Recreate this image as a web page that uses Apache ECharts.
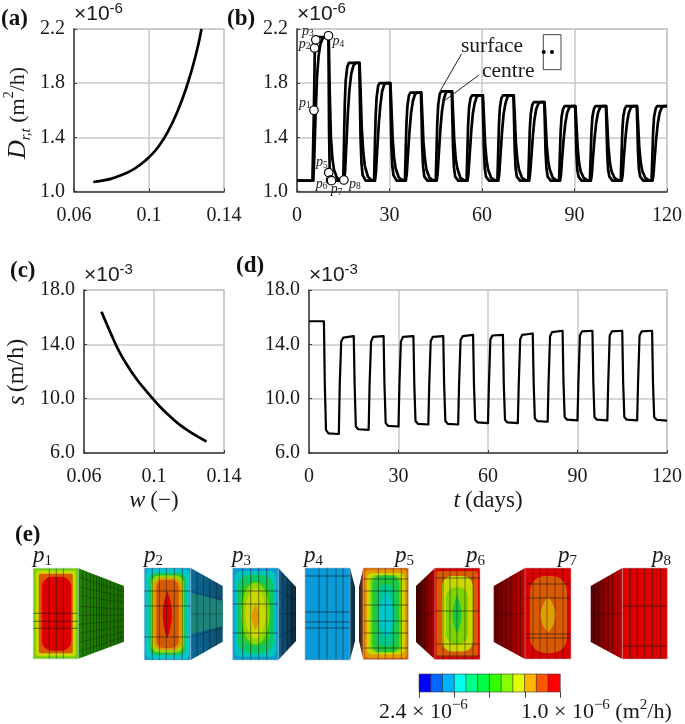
<!DOCTYPE html>
<html><head><meta charset="utf-8">
<style>html,body{margin:0;padding:0;background:#fff}#c{width:685px;height:724px}</style>
<script src="https://cdn.jsdelivr.net/npm/echarts@6/dist/echarts.min.js"></script>
</head><body><div id="c"></div>
<script>
// ---------- panel (a) ----------
var curveAw = [0.0703,0.075,0.08,0.085,0.09,0.095,0.1,0.105,0.11,0.115,0.12,0.125,0.128];
var curveAD = [1.07,1.08,1.095,1.12,1.15,1.195,1.253,1.33,1.44,1.585,1.77,2.01,2.2];
// ---------- panel (c) ----------
var curveCw = [0.07,0.075,0.08,0.085,0.09,0.095,0.1,0.105,0.11,0.115,0.12,0.125,0.13];
var curveCs = [16.4,14.9,13.5,12.4,11.45,10.65,9.9,9.2,8.6,8.05,7.6,7.2,6.85];
// ---------- panel (b): wetting/drying cycles ----------
var cycleStarts = [5,15,25,35,45,55,65,75,85,95,105,115];
var surfaceOffsets = [0,0.3,0.5,0.8,1.3,1.8,5.2,5.4,5.6,5.9,6.3,7.3];
var surfaceCycles = [
 [1.08,1.40,1.62,2.08,2.12,2.14,2.14,1.45,1.16,1.10,1.085,1.08],
 [1.08,1.43,1.65,1.82,1.92,1.95,1.95,1.69,1.41,1.21,1.12,1.08],
 [1.08,1.37,1.55,1.69,1.78,1.80,1.80,1.58,1.35,1.19,1.12,1.08],
 [1.08,1.34,1.50,1.63,1.71,1.73,1.73,1.54,1.33,1.18,1.11,1.08],
 [1.08,1.34,1.51,1.64,1.72,1.74,1.74,1.54,1.33,1.18,1.11,1.08],
 [1.08,1.33,1.49,1.62,1.69,1.71,1.71,1.52,1.32,1.17,1.11,1.08],
 [1.08,1.33,1.49,1.62,1.69,1.71,1.71,1.52,1.32,1.17,1.11,1.08],
 [1.08,1.31,1.46,1.57,1.64,1.66,1.66,1.49,1.30,1.17,1.11,1.08],
 [1.08,1.30,1.44,1.55,1.61,1.63,1.63,1.47,1.29,1.16,1.11,1.08],
 [1.08,1.30,1.44,1.55,1.61,1.63,1.63,1.47,1.29,1.16,1.11,1.08],
 [1.08,1.30,1.44,1.55,1.61,1.63,1.63,1.47,1.29,1.16,1.11,1.08],
 [1.08,1.30,1.44,1.55,1.61,1.63]
];
var centreOffsets = [0.3,0.6,1,1.5,2,2.6,3.3,4,5.3,5.6,6,6.5,7,8,9];
var centreCycles = [
 [1.08,1.25,1.55,1.85,2.00,2.09,2.13,2.14,2.14,1.75,1.40,1.24,1.16,1.10,1.085],
 [1.08,1.15,1.34,1.58,1.75,1.87,1.93,1.95,1.95,1.76,1.47,1.29,1.19,1.11,1.087],
 [1.08,1.14,1.30,1.49,1.63,1.74,1.79,1.80,1.80,1.64,1.40,1.25,1.17,1.105,1.086],
 [1.08,1.13,1.28,1.45,1.58,1.67,1.72,1.73,1.73,1.59,1.37,1.24,1.16,1.10,1.085],
 [1.08,1.13,1.28,1.46,1.59,1.68,1.73,1.74,1.74,1.59,1.38,1.24,1.17,1.10,1.085],
 [1.08,1.13,1.27,1.44,1.57,1.65,1.70,1.71,1.71,1.57,1.36,1.23,1.16,1.10,1.085],
 [1.08,1.13,1.27,1.44,1.57,1.65,1.70,1.71,1.71,1.57,1.36,1.23,1.16,1.10,1.085],
 [1.08,1.13,1.25,1.41,1.53,1.61,1.65,1.66,1.66,1.53,1.34,1.22,1.16,1.10,1.085],
 [1.08,1.12,1.25,1.39,1.50,1.58,1.62,1.63,1.63,1.51,1.33,1.21,1.15,1.10,1.085],
 [1.08,1.12,1.25,1.39,1.50,1.58,1.62,1.63,1.63,1.51,1.33,1.21,1.15,1.10,1.085],
 [1.08,1.12,1.25,1.39,1.50,1.58,1.62,1.63,1.63,1.51,1.33,1.21,1.15,1.10,1.085],
 [1.08,1.12,1.25,1.39,1.50,1.58,1.62,1.63]
];
var markerDays = [5.5,5.7,6.1,10.2,10.3,10.9,11.2,15.2];
var markerValues = [1.6,2.06,2.12,2.15,1.14,1.085,1.08,1.085];
var markerNames = ['1','2','3','4','5','6','7','8'];
// ---------- panel (d) ----------
var speedOffsets = [0,0.3,0.7,1.5,5,5.3,5.8,6.5];
var speedCycles = [
 [15.7,11,7.7,7.45,7.4,11,14.2,14.5],
 [14.6,11,7.95,7.75,7.7,11,14.2,14.55],
 [14.6,11,8.2,8.0,7.95,11,14.2,14.55],
 [14.6,11,8.35,8.15,8.1,11,14.25,14.55],
 [14.6,11,8.35,8.15,8.1,11,14.3,14.6],
 [14.7,11,8.45,8.25,8.2,11,14.35,14.65],
 [14.7,11,8.45,8.25,8.2,11,14.4,14.7],
 [14.8,11.2,8.55,8.35,8.3,11.2,14.6,14.9],
 [15,11.2,8.65,8.45,8.4,11.2,14.65,14.95],
 [15,11.2,8.65,8.45,8.4,11.2,14.65,14.95],
 [15,11.2,8.65,8.45,8.4,11.2,14.65,14.95],
 [15,11.2,8.65,8.45]
];
// ---------- colour bar ----------
var barValues = [2.34,2.22,2.11,1.99,1.87,1.76,1.64,1.52,1.41,1.29,1.17,1.06];
var barColours = ['#0000ff','#0066ff','#00b3ff','#00ffee','#00ff88','#00ff44','#33ff00','#88ff00','#e6ff00','#ffb300','#ff5500','#ff0000'];

// ---------- assemble series data ----------
function cycleSeries(head, offsets, cycles, tail){
  var out = head.slice();
  cycles.forEach(function(vals,k){ vals.forEach(function(v,i){ out.push([cycleStarts[k]+offsets[i], v]); }); });
  return out.concat(tail);
}
var surfaceData = cycleSeries([[0,1.08]], surfaceOffsets, surfaceCycles, [[120,1.63]]);
var centreData  = cycleSeries([[0,1.08]], centreOffsets, centreCycles, [[120,1.63]]);
var speedData   = cycleSeries([[0,15.7]], speedOffsets, speedCycles, [[120,8.38]]);
function zip(a,b){ return a.map(function(x,i){ return [x,b[i]]; }); }

var SERIF = '"Liberation Serif"', SANS = '"Liberation Sans"';
var INK = '#1a1a1a', LIGHT = '#c9c9c9', AXIS = '#3a3a3a';
var base = {fontFamily:SERIF, fontSize:20, color:INK};

function gridBox(l,t,r,b){ return {left:l, top:t, width:r-l, height:b-t, show:true, borderColor:LIGHT, borderWidth:1.5, backgroundColor:'transparent'}; }
function xAx(i,min,max,interval,extra){
  return Object.assign({type:'value', gridIndex:i, min:min, max:max, interval:interval,
    axisLine:{onZero:false, lineStyle:{color:AXIS,width:1.5}},
    axisTick:{inside:true,length:3,lineStyle:{color:AXIS}},
    axisLabel:{fontFamily:SERIF,fontSize:20,color:INK,margin:14,showMinLabel:true,showMaxLabel:true},
    splitLine:{show:true,lineStyle:{color:LIGHT,width:1.5}}}, extra||{});
}
function yAx(i,min,max,interval,exp){
  return {type:'value', gridIndex:i, min:min, max:max, interval:interval,
    axisLine:{onZero:false, lineStyle:{color:AXIS,width:1.5}},
    axisTick:{inside:true,length:3,lineStyle:{color:AXIS}},
    axisLabel:{fontFamily:SERIF,fontSize:20,color:INK,margin:9,formatter:function(v){return v.toFixed(1);},showMinLabel:true,showMaxLabel:true},
    splitLine:{show:true,lineStyle:{color:LIGHT,width:1.5}},
    name:'{x|×10}{s|'+exp+'}', nameLocation:'end', nameGap:2,
    nameTextStyle:{align:'left',verticalAlign:'bottom',rich:{
      x:{fontFamily:SANS,fontSize:21,color:INK,lineHeight:26},
      s:{fontFamily:SANS,fontSize:15,color:INK,verticalAlign:'top'}}}};
}
var line = function(x,y,data,smooth,w){ return {type:'line',xAxisIndex:x,yAxisIndex:y,data:data,showSymbol:false,smooth:smooth,
  lineStyle:{color:'#000',width:w||2.7,join:'round'},clip:true,silent:true}; };

var labelOffsets = [[-9,-7],[-10,-4],[-8,-9],[10,6],[-7,-10],[-9,4],[5,9],[11,4]];
var markerData = markerDays.map(function(d,i){
  return {value:[d,markerValues[i]], name:markerNames[i], label:{offset:labelOffsets[i]}};
});
var xNameRich = {i:{fontFamily:SERIF,fontStyle:'italic',fontSize:24,color:INK},n:{fontFamily:SERIF,fontSize:23,color:INK}};

// ---------- panel (e) illustration ----------
function lens(cx,halfW,top,bottom){
  var pts=[], n=16, cy=(top+bottom)/2, h=(bottom-top)/2, i, t;
  for(i=0;i<=n;i++){ t=-1+2*i/n; pts.push([cx+halfW*(1-t*t), cy+h*t]); }
  for(i=n-1;i>0;i--){ t=-1+2*i/n; pts.push([cx-halfW*(1-t*t), cy+h*t]); }
  return pts;
}
var panelDefs = [
 {x:33.3,w:45,y:568.3,h:90.5,sideTo:124,sideTop:586,sideBot:641.7,near:'#1f8400',far:'#1c7000',
  fill:'#6fd400',
  rects:[[2.5,2.5,2.5,2.5,3,'#c8d800'],[5.5,5.5,5.5,5.5,2,'#d95a00'],[8.5,7,8.5,8,10,'#dc0000']],
  v:[16,23,30],hl:[45,53,60],sv:[.1,.18,.26,.33,.4,.46,.51,.56,.62,.7,.78,.87,.94],sh:[.1,.2,.3,.42,.52,.62,.72,.82,.92]},
 {x:144.3,w:46.4,y:568,h:92,sideTo:222.7,sideTop:586,sideBot:641.7,near:'#106a96',far:'#0c4f70',band:'#1c8478',
  fill:'#0a9ad8',
  rects:[[1,1,1,1,6,'#00c8c8'],[4.5,4.5,5,5,8,'#20c848'],[7,7,7.5,7.5,8,'#9ad800'],[9.5,9.5,10,10,8,'#e29a00'],[12,12,12,12,7,'#d85a00']],
  lenses:[[23,4.6,23,70,'#dc0000']],
  v:[8,15,22,30,38],hl:[23,38,69],sv:[.2,.4,.6,.8],sh:[.25,.5,.75]},
 {x:232.7,w:45.6,y:568,h:92,sideTo:296,sideTop:587,sideBot:641,near:'#10608a',far:'#0a2636',
  fill:'#0a9ad8',
  rects:[[2,2,3,3,7,'#00c4b8'],[5,5,7,7,12,'#10c860'],[8,8,14,14,14,'#30cc20']],
  ells:[[22.8,14,45.5,31,'#8cd800'],[22.8,10,45.5,25,'#c8d800']],
  lenses:[[22.8,3.6,36,62,'#e09a00']],
  v:[10,18,26,34],hl:[23,36,65],sv:[.25,.5,.75],sh:[.25,.5,.75]},
 {x:305,w:45,y:568,h:92,sideTo:355,sideTop:587,sideBot:641,near:'#0e4a6c',far:'#0a2030',
  fill:'#0a9ad8',rects:[],v:[14,22,31,38],hl:[8,44,54,60],sv:[],sh:[]},
 {x:363.3,w:45,y:568,h:91.5,sideTo:359,sideTop:587,sideBot:641,near:'#8a4a10',far:'#1c1c1c',
  fill:'#d85a00',
  rects:[[1.5,1.5,1.5,1.5,4,'#e29a00'],[3.5,3.5,5,5,5,'#c6d800'],[7,7,7,7,7,'#7ed400'],[9,9,7.5,7.5,8,'#20c840'],[14,14,16,13,10,'#00c88c']],
  lenses:[[23,7.5,24,70,'#00c8c8']],
  v:[15,22,30,38],hl:[11,23,37,53,65,80],sv:[],sh:[]},
 {x:435,w:45,y:568,h:91.5,sideTo:416,sideTop:586,sideBot:642,near:'#b80000',far:'#3c0000',
  fill:'#dc0000',
  rects:[[1.5,2,3,3,3,'#d95a00'],[7,7,8,8,10,'#c8d800'],[11,12,19,15,11,'#7ed400']],
  lenses:[[22,4.4,27,66,'#20c840']],
  v:[8,15,22,30,38],hl:[10,43,76,88],sv:[.2,.4,.55,.7,.85],sh:[.5]},
 {x:525,w:46,y:568,h:91,sideTo:493.7,sideTop:586,sideBot:642,near:'#c00000',far:'#5a0000',
  fill:'#dc0000',
  rects:[[5,4,8,6,15,'#d95a00']],
  lenses:[[23,7.5,29,65,'#e0a000']],
  v:[8,15,22,30,38],hl:[16,30,66,70],sv:[.15,.3,.45,.6,.75,.88],sh:[.5]},
 {x:622.3,w:45,y:568,h:91,sideTo:590.7,sideTop:586,sideBot:642,near:'#c00000',far:'#5a0000',
  fill:'#dc0000',rects:[],v:[8,15,22,30,38],hl:[38,78],sv:[.15,.3,.45,.6,.75,.88],sh:[.5]}
];
var gfx = [];
function add(o){ o.silent=true; o.z=10; gfx.push(o); }
panelDefs.forEach(function(p){
  var leftSide = p.sideTo < p.x;
  var ex = leftSide ? p.x : p.x+p.w;
  var pts=[[ex,p.y],[p.sideTo,p.sideTop],[p.sideTo,p.sideBot],[ex,p.y+p.h]];
  add({type:'polygon',shape:{points:pts},style:{fill:new echarts.graphic.LinearGradient(
      leftSide?1:0,0,leftSide?0:1,0,[{offset:0,color:p.near},{offset:1,color:p.far}])}});
  if(p.band){
    var bt=.27,bb=.72;
    add({type:'polygon',shape:{points:[[ex,p.y+p.h*bt],[p.sideTo,p.sideTop+(p.sideBot-p.sideTop)*bt],[p.sideTo,p.sideTop+(p.sideBot-p.sideTop)*bb],[ex,p.y+p.h*bb]]},style:{fill:p.band}});
  }
  p.sv.forEach(function(f){
    var x=ex+(p.sideTo-ex)*f, t=p.y+(p.sideTop-p.y)*f, b=p.y+p.h+(p.sideBot-p.y-p.h)*f;
    add({type:'line',shape:{x1:x,y1:t,x2:x,y2:b},style:{stroke:'rgba(0,0,0,.5)',lineWidth:.7}});
  });
  p.sh.forEach(function(f){
    add({type:'line',shape:{x1:ex,y1:p.y+p.h*f,x2:p.sideTo,y2:p.sideTop+(p.sideBot-p.sideTop)*f},style:{stroke:'rgba(0,0,0,.4)',lineWidth:.6}});
  });
  add({type:'rect',shape:{x:p.x,y:p.y,width:p.w,height:p.h},style:{fill:p.fill}});
  p.rects.forEach(function(r){
    add({type:'rect',shape:{x:p.x+r[0],y:p.y+r[2],width:p.w-r[0]-r[1],height:p.h-r[2]-r[3],r:r[4]},style:{fill:r[5]}});
  });
  (p.ells||[]).forEach(function(e){
    add({type:'ellipse',shape:{cx:p.x+e[0],cy:p.y+e[2],rx:e[1],ry:e[3]},style:{fill:e[4]}});
  });
  (p.lenses||[]).forEach(function(l){
    add({type:'polygon',shape:{points:lens(p.x+l[0],l[1],p.y+l[2],p.y+l[3])},style:{fill:l[4]}});
  });
  p.v.forEach(function(o){
    add({type:'line',shape:{x1:p.x+o,y1:p.y,x2:p.x+o,y2:p.y+p.h},style:{stroke:'rgba(20,20,20,.6)',lineWidth:.8}});
  });
  p.hl.forEach(function(o){
    add({type:'line',shape:{x1:p.x,y1:p.y+o,x2:p.x+p.w,y2:p.y+o},style:{stroke:'rgba(20,20,20,.7)',lineWidth:.8}});
  });
  add({type:'rect',shape:{x:p.x,y:p.y,width:p.w,height:p.h},style:{fill:'none',stroke:'rgba(170,185,195,.7)',lineWidth:.8}});
});
var mathRich = {i:{fontFamily:SERIF,fontStyle:'italic',fontSize:23,fill:INK,lineHeight:26},
                s:{fontFamily:SERIF,fontSize:15,fill:INK,verticalAlign:'bottom'},
                n:{fontFamily:SERIF,fontSize:22,fill:INK,lineHeight:28},
                u:{fontFamily:SERIF,fontSize:15,fill:INK,verticalAlign:'top'}};
var panelTitleX = [33,144,232,304,395,466,558,652];
panelTitleX.forEach(function(x,i){
  add({type:'text',x:x,y:543,style:{text:'{i|p}{s|'+(i+1)+'}',rich:mathRich,fill:INK,textVerticalAlign:'top'}});
});
function boldTag(t,x,y){ add({type:'text',x:x,y:y,style:{text:t,font:'bold 23px '+SERIF,fill:'#111',textVerticalAlign:'middle'}}); }
boldTag('(a)',1,19); boldTag('(b)',227,19); boldTag('(c)',10,271); boldTag('(d)',236,266); boldTag('(e)',15,535);
add({type:'text',x:379,y:698,style:{text:'{n|2.4 × 10}{u|−6}',rich:mathRich,fill:INK}});
add({type:'text',x:521,y:698,style:{text:'{n|1.0 × 10}{u|−6}{n| (m}{u|2}{n|/h)}',rich:mathRich,fill:INK}});
// annotations of panel (b)
add({type:'text',x:461,y:35,style:{text:'surface',font:'21.5px '+SERIF,fill:INK}});
add({type:'text',x:482,y:60,style:{text:'centre',font:'21.5px '+SERIF,fill:INK}});
add({type:'line',shape:{x1:461.5,y1:54,x2:440.7,y2:90},style:{stroke:'#222',lineWidth:1}});
add({type:'line',shape:{x1:479,y1:75,x2:443,y2:101.7},style:{stroke:'#222',lineWidth:1}});
add({type:'rect',shape:{x:543.3,y:34.7,width:17.7,height:35},style:{fill:'#fff',stroke:'#444',lineWidth:1}});
add({type:'circle',shape:{cx:543.7,cy:52,r:2},style:{fill:'#000'}});
add({type:'circle',shape:{cx:552,cy:52,r:2},style:{fill:'#000'}});
// rotated axis titles of (a) and (c)
add({type:'text',rotation:Math.PI/2,x:18,y:113,style:{
  text:'{i|D}{s|r,t}{n| (m}{u|2}{n|/h)}',rich:{
    i:{fontFamily:SERIF,fontStyle:'italic',fontSize:26,fill:INK,lineHeight:32},
    s:{fontFamily:SERIF,fontStyle:'italic',fontSize:15,fill:INK,verticalAlign:'bottom'},
    n:{fontFamily:SERIF,fontSize:22,fill:INK,lineHeight:32},
    u:{fontFamily:SERIF,fontSize:14,fill:INK,verticalAlign:'top'}},
  textAlign:'center',textVerticalAlign:'middle',fill:INK}});
add({type:'text',rotation:Math.PI/2,x:17,y:372,style:{
  text:'{i|s} {n|(m/h)}',rich:{
    i:{fontFamily:SERIF,fontStyle:'italic',fontSize:25,fill:INK,lineHeight:32},
    n:{fontFamily:SERIF,fontSize:24,fill:INK,lineHeight:32}},
  textAlign:'center',textVerticalAlign:'middle',fill:INK}});

var option = {
  animation:false, backgroundColor:'#fff', textStyle:base,
  grid:[gridBox(74,29,224,191.5),gridBox(297,29,670,191.5),gridBox(84,290,224,453),gridBox(309,290,670,453),
        {left:419.3,top:674.3,width:140.7,height:17.4,show:false}],
  xAxis:[
    xAx(0,0.06,0.14,0.04), xAx(1,0,120,30),
    xAx(2,0.06,0.14,0.04,{name:'{i|w} {n|(−)}',nameLocation:'middle',nameGap:36,nameTextStyle:{rich:xNameRich}}),
    xAx(3,0,120,30,{name:'{i|t} {n|(days)}',nameLocation:'middle',nameGap:36,nameTextStyle:{rich:xNameRich}}),
    {type:'category',gridIndex:4,data:barValues.map(String),axisLine:{show:false},
      axisTick:{show:true,length:6,lineStyle:{color:'#444',width:1}},axisLabel:{show:false},splitLine:{show:false}}
  ],
  yAxis:[
    yAx(0,1,2.2,0.4,'-6'),
    yAx(1,1,2.2,0.4,'-6'),
    yAx(2,6,18,4,'-3'),
    yAx(3,6,18,4,'-3'),
    {type:'category',gridIndex:4,data:['k'],axisLine:{show:false},axisTick:{show:false},axisLabel:{show:false},splitLine:{show:false}}
  ],
  visualMap:{show:false,type:'piecewise',seriesIndex:6,dimension:2,
    pieces:barValues.map(function(v,i){return {value:v,color:barColours[i]};})},
  series:[
    line(0,0,zip(curveAw,curveAD),true),
    line(1,1,surfaceData,false),
    line(1,1,centreData,false),
    {type:'scatter',xAxisIndex:1,yAxisIndex:1,data:markerData,symbolSize:8.5,z:5,silent:true,
      itemStyle:{color:'#fff',borderColor:'#000',borderWidth:1.2,opacity:1},
      label:{show:true,position:'inside',color:INK,
        formatter:function(p){return '{i|p}{s|'+p.name+'}';},
        rich:{i:{fontFamily:SERIF,fontStyle:'italic',fontSize:14,color:INK,lineHeight:15},
              s:{fontFamily:SERIF,fontSize:9.5,color:INK,verticalAlign:'bottom'}}}},
    line(2,2,zip(curveCw,curveCs),true),
    line(3,3,speedData,false,2.2),
    {type:'heatmap',xAxisIndex:4,yAxisIndex:4,silent:true,
      data:barValues.map(function(v,i){return [i,0,v];}),
      itemStyle:{borderColor:'#333',borderWidth:.6},progressive:0}
  ],
  graphic:{elements:gfx}
};
var chart = echarts.init(document.getElementById('c'),null,{renderer:'canvas',width:685,height:724});
chart.setOption(option);
</script></body></html>
